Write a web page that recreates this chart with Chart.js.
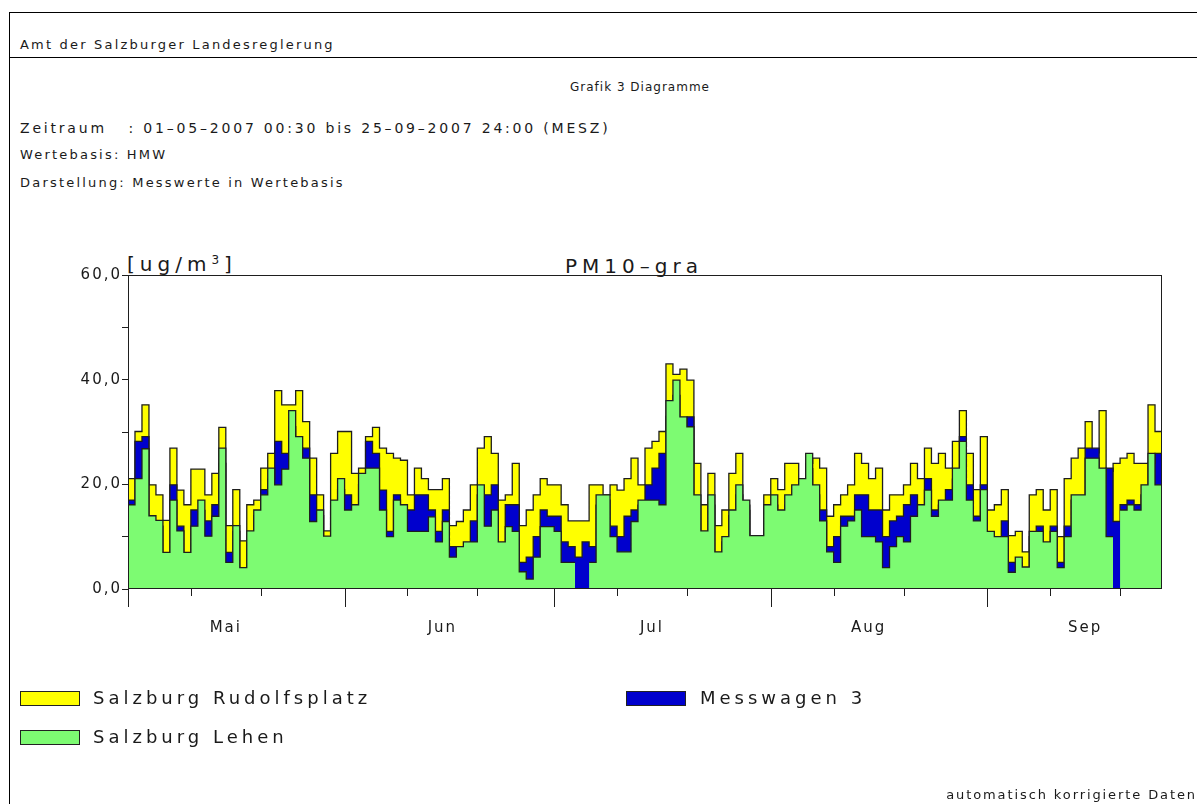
<!DOCTYPE html>
<html>
<head>
<meta charset="utf-8">
<title>PM10-gra</title>
<script src="https://cdn.jsdelivr.net/npm/chart.js@4.4.0/dist/chart.umd.min.js"></script>
<style>
  body { margin: 0; background: #fff; }
  #page { position: relative; width: 1197px; height: 804px; overflow: hidden; background: #fff;
          font-family: "DejaVu Sans", sans-serif; color: #1a1a1a; }
  #frame { position: absolute; left: 9px; top: 12px; width: 1300px; height: 900px;
           border-left: 1px solid #000; border-top: 1px solid #000; }
  #rule { position: absolute; left: 9px; top: 57px; width: 1300px; border-top: 1px solid #000; }
  .t { position: absolute; white-space: pre; line-height: 20px; }
  .small { font-size: 13px; letter-spacing: 2.2px; }
  .mid { font-size: 14px; letter-spacing: 2.8px; }
  .big { font-size: 20px; letter-spacing: 5px; line-height: 24px; }
  .leg { font-size: 18px; letter-spacing: 4px; line-height: 24px; }
  .box { position: absolute; width: 58px; height: 13px; border: 1px solid #222; }
  sup { font-size: 12px; vertical-align: 7px; line-height: 0; }
  canvas { position: absolute; left: 0; top: 0; }
</style>
</head>
<body>
<div id="page">
  <div id="frame"></div>
  <div id="rule"></div>
  <div class="t small" style="left:20px; top:35px;">Amt der Salzburger Landesreglerung</div>
  <div class="t" style="left:570px; top:77px; font-size:12px; letter-spacing:1px;">Grafik 3 Diagramme</div>
  <div class="t mid" style="left:20px; top:118px;">Zeitraum   : 01–05–2007 00:30 bis 25–09–2007 24:00 (MESZ)</div>
  <div class="t small" style="left:20px; top:145px;">Wertebasis: HMW</div>
  <div class="t small" style="left:20px; top:173px;">Darstellung: Messwerte in Wertebasis</div>
  <div class="t big" style="left:127px; top:252px;">[ug/m<sup>3</sup>]</div>
  <div class="t big" style="left:565px; top:254px;">PM10–gra</div>

  <canvas id="chart" width="1197" height="804"></canvas>

  <div class="box" style="left:20px; top:691px; background:#ffff00;"></div>
  <div class="t leg" style="left:93px; top:686px;">Salzburg Rudolfsplatz</div>
  <div class="box" style="left:626px; top:691px; background:#0000cd;"></div>
  <div class="t leg" style="left:700px; top:686px;">Messwagen 3</div>
  <div class="box" style="left:20px; top:730px; background:#7dfb72;"></div>
  <div class="t leg" style="left:93px; top:725px;">Salzburg Lehen</div>
  <div class="t" style="right:0px; top:785px; font-size:13px; letter-spacing:1.9px;">automatisch korrigierte Daten</div>
</div>

<script>
// daily means, 01-05-2007 .. 25-09-2007 (148 days), ug/m3
const rudolfsplatz = [
  21.1, 30.1, 35.2, 19.9, 18.0, 13.1, 26.9, 18.9, 16.1, 22.9,
  22.9, 18.0, 22.1, 30.9, 12.1, 19.0, 9.2, 16.1, 17.0, 23.1,
  25.9, 37.9, 35.2, 35.2, 37.9, 32.0, 25.0, 18.0, 11.1, 25.9,
  30.1, 30.1, 22.1, 23.1, 29.1, 30.9, 26.9, 25.9, 25.0, 24.6,
  18.0, 23.1, 21.1, 19.0, 19.0, 21.1, 12.1, 12.9, 15.1, 19.9,
  26.9, 29.1, 25.9, 17.0, 18.0, 24.0, 12.1, 15.1, 18.0, 21.1,
  19.9, 19.9, 16.1, 13.0, 13.0, 13.0, 19.9, 19.9, 18.0, 19.9,
  18.9, 21.1, 25.0, 19.9, 26.9, 28.2, 30.1, 43.0, 41.0, 42.0,
  39.9, 24.0, 16.1, 22.1, 12.1, 15.1, 22.1, 25.9, 16.0, 9.0,
  10.0, 18.0, 21.1, 19.0, 24.0, 24.0, 20.0, 24.0, 25.0, 23.1,
  13.9, 16.1, 18.0, 19.9, 25.9, 24.0, 21.1, 23.1, 15.1, 18.0,
  18.0, 19.9, 24.0, 21.1, 26.9, 24.0, 25.9, 23.1, 28.2, 34.1,
  25.9, 19.0, 29.1, 15.1, 16.1, 19.0, 10.2, 11.0, 7.1, 18.0,
  19.0, 15.1, 19.0, 10.0, 21.1, 25.0, 26.9, 32.0, 26.0, 34.1,
  22.5, 24.0, 25.0, 25.9, 24.0, 24.0, 35.2, 30.1
];
const messwagen3 = [
  17.0, 28.2, 29.1, 13.0, 12.0, 6.0, 19.9, 12.0, 6.0, 15.1,
  15.0, 13.0, 16.1, 24.0, 7.0, 11.0, 3.0, 10.0, 14.0, 19.0,
  21.0, 28.2, 25.9, 31.0, 27.0, 26.9, 18.0, 14.0, 9.0, 15.0,
  19.0, 18.0, 15.0, 20.0, 28.2, 25.9, 18.9, 11.0, 18.0, 15.0,
  15.1, 18.0, 18.0, 15.1, 11.0, 15.1, 8.1, 7.0, 8.0, 13.0,
  18.0, 18.0, 19.9, 8.0, 16.1, 16.1, 5.1, 6.1, 10.0, 15.1,
  13.9, 13.9, 9.0, 8.1, 6.1, 9.0, 8.1, 16.0, 17.0, 12.0,
  10.0, 13.9, 15.1, 16.0, 19.9, 23.1, 25.9, 33.0, 37.0, 31.0,
  32.9, 16.0, 10.0, 16.0, 6.0, 9.0, 14.0, 18.0, 15.0, 9.0,
  9.0, 15.0, 16.0, 14.0, 16.0, 18.0, 19.0, 23.0, 18.0, 15.1,
  8.1, 10.0, 13.9, 13.9, 18.0, 18.0, 15.1, 15.1, 10.0, 13.0,
  13.9, 16.1, 18.0, 15.0, 21.1, 15.1, 16.0, 19.0, 21.0, 29.1,
  19.9, 13.9, 19.9, 10.0, 9.0, 13.0, 5.1, 5.0, 3.0, 10.0,
  12.0, 8.0, 12.0, 5.1, 12.0, 17.0, 17.0, 26.9, 26.9, 21.0,
  23.1, 12.9, 16.1, 17.0, 16.1, 18.0, 24.0, 25.9
];
const lehen = [
  16.1, 21.1, 26.8, 14.0, 13.1, 7.0, 17.0, 11.1, 7.0, 12.0,
  17.0, 10.1, 13.9, 26.9, 5.1, 12.1, 4.1, 11.1, 15.1, 18.0,
  23.1, 19.9, 22.9, 34.1, 29.1, 25.0, 12.9, 15.1, 10.1, 17.0,
  21.1, 15.1, 16.1, 22.1, 23.1, 23.1, 15.1, 10.0, 17.0, 16.1,
  11.0, 11.0, 11.0, 13.8, 9.0, 12.9, 6.1, 8.1, 9.0, 9.0,
  19.9, 12.0, 15.1, 9.0, 11.9, 11.0, 3.3, 1.9, 6.1, 11.9,
  11.9, 11.0, 5.1, 5.1, null, null, 5.1, 18.0, 18.0, 10.0,
  7.1, 7.1, 12.9, 17.0, 17.0, 17.0, 16.1, 36.0, 39.9, 32.9,
  31.0, 18.0, 11.1, 18.0, 7.1, 10.0, 15.1, 19.9, 17.0, 10.2,
  10.2, 16.1, 18.0, 15.1, 18.0, 19.9, 21.1, 25.9, 19.9, 13.0,
  7.1, 5.1, 12.0, 13.0, 15.1, 10.0, 10.0, 9.0, 4.1, 8.1,
  10.0, 9.0, 13.9, 16.1, 18.9, 13.9, 17.0, 17.0, 23.1, 28.2,
  17.0, 13.0, 19.0, 11.0, 10.0, 10.0, 3.2, 6.1, 4.2, 11.0,
  11.0, 9.0, 11.0, 4.1, 10.0, 18.0, 18.0, 25.0, 25.0, 23.1,
  10.0, null, 15.1, 16.1, 15.1, 19.9, 25.9, 19.9
];

const monthNames = ['Mai', 'Jun', 'Jul', 'Aug', 'Sep'];
const monthStartDay = [0, 31, 61, 92, 123];        // 1st of each month
const monthLabelDay = [14, 45, 75, 106, 137];      // 15th of each month
const decadeTickDay = [9, 19, 40, 50, 70, 80, 101, 111, 132, 142]; // 10th and 20th
const dayCount = 148;

// each day is a flat step from day i to i+1
function steps(values) {
  const pts = [];
  values.forEach((v, i) => {
    pts.push({ x: i, y: v });
    pts.push({ x: i + 1, y: v });
  });
  return pts;
}

const lineStyle = {
  borderColor: '#1e1e1e',
  borderWidth: 1.3,
  pointRadius: 0,
  tension: 0,
  fill: 'origin',
  spanGaps: false
};

// plotter-like wide lettering for the axis labels
const wideText = {
  id: 'wideText',
  beforeDraw(chart) { chart.ctx.letterSpacing = '2px'; }
};

const frameAndTicks = {
  id: 'frameAndTicks',
  afterDraw(chart) {
    const { ctx, chartArea: a, scales: { x } } = chart;
    ctx.save();
    ctx.strokeStyle = '#1e1e1e';
    ctx.lineWidth = 1;
    ctx.strokeRect(a.left + 0.5, a.top + 0.5, a.width - 1, a.height - 1);
    ctx.beginPath();
    monthStartDay.forEach(d => {
      const px = Math.round(x.getPixelForValue(d)) + 0.5;
      ctx.moveTo(px, a.bottom); ctx.lineTo(px, a.bottom + 18);
    });
    decadeTickDay.forEach(d => {
      const px = Math.round(x.getPixelForValue(d)) + 0.5;
      ctx.moveTo(px, a.bottom); ctx.lineTo(px, a.bottom + 7);
    });
    ctx.stroke();
    ctx.restore();
  }
};

new Chart(document.getElementById('chart'), {
  type: 'line',
  data: {
    datasets: [
      Object.assign({ label: 'Salzburg Lehen', data: steps(lehen), backgroundColor: '#7dfb72', order: 1 }, lineStyle),
      Object.assign({ label: 'Messwagen 3', data: steps(messwagen3), backgroundColor: '#0000cd', order: 2 }, lineStyle),
      Object.assign({ label: 'Salzburg Rudolfsplatz', data: steps(rudolfsplatz), backgroundColor: '#ffff00', order: 3 }, lineStyle)
    ]
  },
  options: {
    responsive: false,
    animation: false,
    layout: { padding: { left: 0, top: 275, right: 35, bottom: 155 } },
    plugins: { legend: { display: false }, tooltip: { enabled: false } },
    scales: {
      x: {
        type: 'linear',
        min: 0,
        max: dayCount,
        afterFit: s => { s.height = 60; },
        afterBuildTicks: s => { s.ticks = monthLabelDay.map(v => ({ value: v })); },
        grid: { display: false },
        border: { display: false },
        ticks: {
          autoSkip: false,
          maxRotation: 0,
          padding: 22,
          color: '#1a1a1a',
          font: { family: 'DejaVu Sans', size: 15 },
          callback: (v, i) => monthNames[i]
        }
      },
      y: {
        min: 0,
        max: 60,
        afterFit: s => { s.width = 128; },
        grid: { drawOnChartArea: false, tickLength: 6, tickColor: '#1e1e1e' },
        border: { color: '#1e1e1e' },
        ticks: {
          stepSize: 10,
          padding: 0,
          color: '#1a1a1a',
          font: { family: 'DejaVu Sans', size: 15 },
          callback: v => (v % 20 === 0 ? v.toFixed(1).replace('.', ',') : '')
        }
      }
    }
  },
  plugins: [wideText, frameAndTicks]
});
</script>
</body>
</html>
